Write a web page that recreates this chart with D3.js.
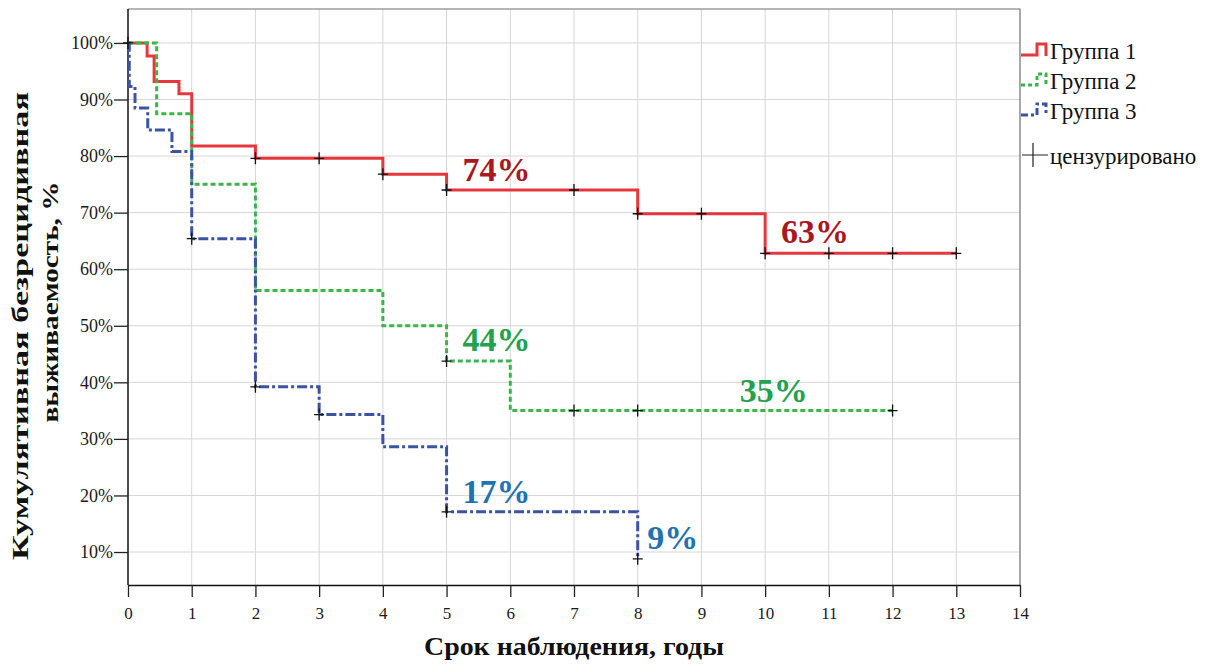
<!DOCTYPE html>
<html>
<head>
<meta charset="utf-8">
<script src="https://cdn.jsdelivr.net/npm/d3@7"></script>
<style>
  body { margin: 0; background: #fff; }
  svg { display: block; font-family: "Liberation Serif", "Times New Roman", serif; }
</style>
</head>
<body>
<div id="app"></div>
<script>
// Kaplan-Meier steps (time in years, survival in %)
const g1Time = [0, 0.3, 0.41, 0.8, 1, 2, 4, 5, 8, 10, 13];
const g1Surv = [100, 97.7, 93.2, 91.0, 81.8, 79.6, 76.8, 74.0, 69.8, 62.8, 62.8];
const g1Cens = [0, 2, 3, 4, 5, 7, 8, 9, 10, 11, 12, 13];

const g2Time = [0, 0.45, 1, 2, 4, 5, 6, 12];
const g2Surv = [100, 87.5, 75, 56.25, 50, 43.75, 35, 35];
const g2Cens = [5, 7, 8, 12];

const g3Time = [0, 0.02, 0.11, 0.31, 0.69, 1, 2, 3, 4, 5, 8];
const g3Surv = [100, 92.3, 88.5, 84.6, 80.8, 65.4, 39.2, 34.3, 28.6, 17.1, 8.8];
const g3Cens = [1, 2, 3, 5, 8];

const groupNames = ["Группа 1", "Группа 2", "Группа 3"];
const censLabel = "цензурировано";

// percent labels on the curves: [time, survival, text]
const notes1 = [[5.25, 74, "74%"], [10.25, 63, "63%"]];
const notes2 = [[5.25, 44, "44%"], [9.6, 35, "35%"]];
const notes3 = [[5.25, 17, "17%"], [8.15, 9, "9%"]];

const xTicks = d3.range(0, 15);
const yTicks = [10, 20, 30, 40, 50, 60, 70, 80, 90, 100];

const width = 1222;
const height = 666;
const plotLeft = 128, plotRight = 1020, plotTop = 9, plotBottom = 585;

const xScale = d3.scaleLinear().domain([0, 14]).range([plotLeft, plotRight]);
const yScale = d3.scaleLinear().domain([4.17, 106]).range([plotBottom, plotTop]);

const svg = d3.select("#app").append("svg")
  .attr("width", width)
  .attr("height", height);

// grid
svg.append("g").selectAll("line").data(xTicks.slice(1, -1)).enter().append("line")
  .attr("x1", d => xScale(d)).attr("x2", d => xScale(d))
  .attr("y1", plotTop).attr("y2", plotBottom)
  .attr("stroke", "#d6d6d6").attr("stroke-width", 1);
svg.append("g").selectAll("line").data(yTicks).enter().append("line")
  .attr("x1", plotLeft).attr("x2", plotRight)
  .attr("y1", d => yScale(d)).attr("y2", d => yScale(d))
  .attr("stroke", "#d6d6d6").attr("stroke-width", 1);

// frame top / right
svg.append("path")
  .attr("d", `M${plotLeft},${plotTop}H${plotRight}V${plotBottom}`)
  .attr("fill", "none").attr("stroke", "#6e6e6e").attr("stroke-width", 1.2);

// axes
const xAxis = d3.axisBottom(xScale).tickValues(xTicks).tickSize(12).tickSizeOuter(0).tickPadding(10);
const yAxis = d3.axisLeft(yScale).tickValues(yTicks).tickSize(14).tickSizeOuter(0).tickPadding(1)
  .tickFormat(d => d + "%");

const gx = svg.append("g").attr("transform", `translate(0,${plotBottom})`).call(xAxis);
const gy = svg.append("g").attr("transform", `translate(${plotLeft},0)`).call(yAxis);
[gx, gy].forEach(g => {
  g.select(".domain").attr("stroke", "#111").attr("stroke-width", 1.5);
  g.selectAll(".tick line").attr("stroke", "#222").attr("stroke-width", 1.3);
  g.selectAll("text").attr("font-family", "Liberation Serif, serif").attr("fill", "#1a1a1a");
});
gx.selectAll("text").attr("font-size", 17);
gy.selectAll("text").attr("font-size", 18);
gy.select(".domain").attr("d", `M0,${plotTop}V${plotBottom}`);

// curves
const line = d3.line()
  .x(d => xScale(d[0]))
  .y(d => yScale(d[1]))
  .curve(d3.curveStepAfter);

const groups = [
  { time: g1Time, surv: g1Surv, cens: g1Cens, color: "#e6373c", dash: null, label: "#a8191e", notes: notes1 },
  { time: g2Time, surv: g2Surv, cens: g2Cens, color: "#3bb54a", dash: "5,3", label: "#22a24c", notes: notes2 },
  { time: g3Time, surv: g3Surv, cens: g3Cens, color: "#3a53a4", dash: "10,3,3,3", label: "#1f73b3", notes: notes3 }
];

function survAt(g, t) {
  const i = d3.bisectRight(g.time, t) - 1;
  return g.surv[Math.max(0, i)];
}

groups.forEach(g => {
  svg.append("path")
    .datum(g.time.map((t, i) => [t, g.surv[i]]))
    .attr("d", line)
    .attr("fill", "none")
    .attr("stroke", g.color)
    .attr("stroke-width", 3)
    .attr("stroke-dasharray", g.dash);
});

// censor marks
groups.forEach(g => {
  svg.append("g").selectAll("path").data(g.cens).enter().append("path")
    .attr("d", t => {
      const x = xScale(t), y = yScale(survAt(g, t));
      return `M${x - 5},${y}H${x + 5}M${x},${y - 6}V${y + 6}`;
    })
    .attr("stroke", "#111").attr("stroke-width", 1.3).attr("fill", "none");
});

// percent notes
groups.forEach(g => {
  svg.append("g").selectAll("text").data(g.notes).enter().append("text")
    .attr("x", d => xScale(d[0]))
    .attr("y", d => yScale(d[1]) - 9)
    .attr("font-size", 34)
    .attr("font-weight", "bold")
    .attr("fill", g.label)
    .text(d => d[2]);
});

// legend
const legend = svg.append("g");
groups.forEach((g, i) => {
  const base = 55 + i * 30;
  legend.append("path")
    .attr("d", `M1021,${base}H1037V${base - 11}H1046V${base + 1}`)
    .attr("fill", "none").attr("stroke", g.color).attr("stroke-width", 3)
    .attr("stroke-dasharray", g.dash === null ? null : (i === 1 ? "4,3" : "7,3,3,3"));
  legend.append("text")
    .attr("x", 1050).attr("y", base + 4)
    .attr("font-size", 23).attr("fill", "#111")
    .text(groupNames[i]);
});
legend.append("path")
  .attr("d", "M1022,155H1048M1033,143V167")
  .attr("stroke", "#222").attr("stroke-width", 1.2);
legend.append("text")
  .attr("x", 1050).attr("y", 164)
  .attr("font-size", 23).attr("fill", "#111")
  .text(censLabel);

// axis titles
svg.append("text")
  .attr("x", 574).attr("y", 655)
  .attr("text-anchor", "middle")
  .attr("font-size", 26).attr("font-weight", "bold").attr("fill", "#111")
  .attr("textLength", 300).attr("lengthAdjust", "spacingAndGlyphs")
  .text("Срок наблюдения, годы");

svg.append("text")
  .attr("transform", "translate(28,326) rotate(-90)")
  .attr("text-anchor", "middle")
  .attr("font-size", 23).attr("font-weight", "bold").attr("fill", "#111")
  .attr("textLength", 468).attr("lengthAdjust", "spacingAndGlyphs")
  .text("Кумулятивная безрецидивная");

svg.append("text")
  .attr("transform", "translate(58,302) rotate(-90)")
  .attr("text-anchor", "middle")
  .attr("font-size", 23).attr("font-weight", "bold").attr("fill", "#111")
  .attr("textLength", 241).attr("lengthAdjust", "spacingAndGlyphs")
  .text("выживаемость, %");
</script>
</body>
</html>
